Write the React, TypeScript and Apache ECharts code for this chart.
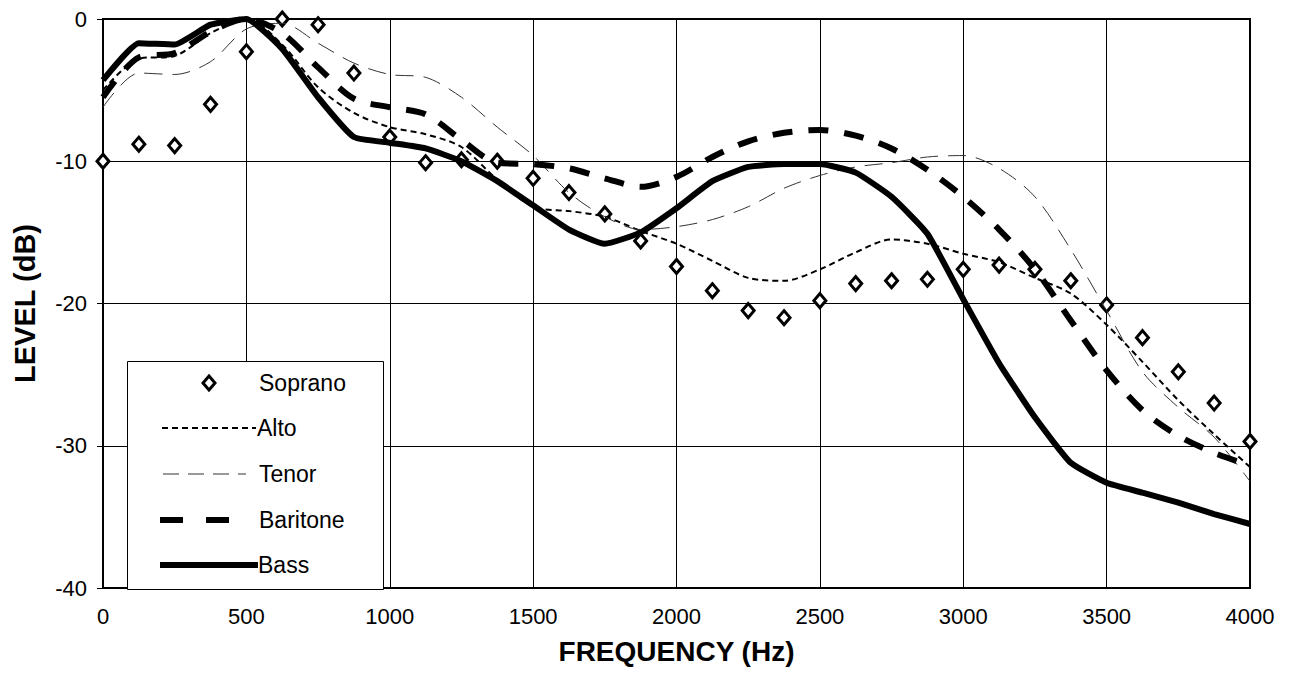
import React, { useEffect, useRef } from "react";
import * as echarts from "echarts";

const freqs = [0, 125, 250, 375, 500, 625, 750, 875, 1000, 1125, 1250, 1375, 1500, 1625, 1750, 1875, 2000, 2125, 2250, 2375, 2500, 2625, 2750, 2875, 3000, 3125, 3250, 3375, 3500, 3625, 3750, 3875, 4000];
const soprano = [-10, -8.8, -8.9, -6.0, -2.3, 0, -0.4, -3.8, -8.3, -10.1, -9.9, -10.0, -11.2, -12.2, -13.7, -15.6, -17.4, -19.1, -20.5, -21.0, -19.8, -18.6, -18.4, -18.3, -17.6, -17.3, -17.6, -18.4, -20.1, -22.4, -24.8, -27.0, -29.7];
const alto = [-5.0, -2.8, -2.6, -1.0, 0, -1.8, -4.8, -6.6, -7.6, -8.1, -9.0, -11.3, -13.2, -13.5, -13.9, -14.9, -15.8, -17.0, -18.2, -18.4, -17.6, -16.4, -15.5, -15.8, -16.5, -17.1, -18.2, -19.3, -21.5, -24.1, -26.8, -29.2, -31.5];
const tenor = [-6.2, -3.8, -3.9, -3.0, -0.7, -0.3, -1.7, -3.1, -3.9, -4.1, -5.5, -7.6, -9.6, -12.2, -13.9, -14.8, -14.6, -14.1, -13.2, -11.9, -11.0, -10.4, -10.1, -9.7, -9.6, -10.5, -12.5, -16.2, -20.5, -24.8, -27.3, -29.4, -32.5];
const baritone = [-5.5, -2.7, -2.4, -0.9, 0, -1.0, -3.4, -5.6, -6.2, -6.7, -8.5, -10.1, -10.2, -10.5, -11.2, -11.8, -11.1, -9.7, -8.6, -8.0, -7.8, -8.2, -9.1, -10.6, -12.5, -14.8, -17.6, -21.2, -24.7, -27.5, -29.3, -30.5, -31.4];
const bass = [-4.3, -1.7, -1.8, -0.4, 0, -2.1, -5.5, -8.3, -8.7, -9.1, -10.0, -11.4, -13.1, -14.8, -15.8, -15.0, -13.3, -11.4, -10.4, -10.2, -10.2, -10.8, -12.5, -15.1, -19.7, -24.2, -28.0, -31.2, -32.6, -33.3, -34.0, -34.8, -35.5];
const legendNames = ["Soprano", "Alto", "Tenor", "Baritone", "Bass"];

const FONT = '"Liberation Sans", Arial, sans-serif';

function pairs(vals: number[]) {
  return freqs.map((f, i) => [f, vals[i]]);
}

export default function App() {
  const ref = useRef<HTMLDivElement>(null);
  useEffect(() => {
    if (!ref.current) return;
    const chart = echarts.init(ref.current, undefined, { renderer: "svg" });
    const legendYs = [383, 428, 474, 520, 565];
    const textStyle = (t: string, x: number, y: number) => ({
      type: "text",
      z: 101,
      style: { text: t, x, y, fill: "#000", font: `23px ${FONT}`, verticalAlign: "middle", align: "left" },
    });
    const option: any = {
      animation: false,
      backgroundColor: "#fff",
      grid: { left: 103, top: 19, width: 1147, height: 569, show: true, borderColor: "#000", borderWidth: 2, backgroundColor: "transparent" },
      xAxis: {
        type: "value",
        min: 0,
        max: 4000,
        interval: 500,
        name: "FREQUENCY (Hz)",
        nameLocation: "middle",
        nameGap: 49,
        nameTextStyle: { fontSize: 28, fontWeight: "bold", color: "#000", fontFamily: FONT },
        axisLine: { show: true, lineStyle: { color: "#000", width: 2 } },
        axisTick: { show: true, inside: false, length: 6, lineStyle: { color: "#000", width: 1 } },
        axisLabel: { fontSize: 22, color: "#000", fontFamily: FONT, margin: 17, formatter: (v: number) => String(v) },
        splitLine: { show: true, lineStyle: { color: "#000", width: 1 } },
      },
      yAxis: {
        type: "value",
        min: -40,
        max: 0,
        interval: 10,
        name: "LEVEL (dB)",
        nameLocation: "middle",
        nameGap: 64,
        nameRotate: 90,
        nameTextStyle: { fontSize: 29, fontWeight: "bold", color: "#000", fontFamily: FONT },
        axisLine: { show: true, lineStyle: { color: "#000", width: 2 } },
        axisTick: { show: true, inside: false, length: 6, lineStyle: { color: "#000", width: 1 } },
        axisLabel: { fontSize: 22, color: "#000", fontFamily: FONT, margin: 16 },
        splitLine: { show: true, lineStyle: { color: "#000", width: 1 } },
      },
      series: [
        {
          name: legendNames[0],
          type: "line",
          data: pairs(soprano),
          symbol: "diamond",
          symbolSize: [12, 14],
          showSymbol: true,
          lineStyle: { width: 0, opacity: 0 },
          itemStyle: { color: "#fff", borderColor: "#000", borderWidth: 3 },
          z: 2,
        },
        {
          name: legendNames[1],
          type: "line",
          data: pairs(alto),
          showSymbol: false,
          smooth: 0.3,
          lineStyle: { color: "#000", width: 2, type: [6, 4] },
          z: 3,
        },
        {
          name: legendNames[2],
          type: "line",
          data: pairs(tenor),
          showSymbol: false,
          smooth: 0.3,
          lineStyle: { color: "#333", width: 1, type: [18, 10] },
          z: 4,
        },
        {
          name: legendNames[3],
          type: "line",
          data: pairs(baritone),
          showSymbol: false,
          smooth: 0.3,
          lineStyle: { color: "#000", width: 6, type: [20, 16] },
          z: 5,
        },
        {
          name: legendNames[4],
          type: "line",
          data: pairs(bass),
          showSymbol: false,
          smooth: 0.15,
          lineStyle: { color: "#000", width: 6 },
          z: 6,
        },
      ],
      graphic: [
        {
          type: "rect",
          z: 100,
          shape: { x: 127.5, y: 361.5, width: 256, height: 228 },
          style: { fill: "#fff", stroke: "#000", lineWidth: 1 },
        },
        {
          type: "polygon",
          z: 101,
          shape: { points: [[209, 376], [215, 383], [209, 390], [203, 383]] },
          style: { fill: "#fff", stroke: "#000", lineWidth: 3 },
        },
        textStyle(legendNames[0], 259, legendYs[0]),
        {
          type: "line",
          z: 101,
          shape: { x1: 162, y1: legendYs[1], x2: 256, y2: legendYs[1] },
          style: { stroke: "#000", lineWidth: 2, lineDash: [6, 4] },
        },
        textStyle(legendNames[1], 257, legendYs[1]),
        {
          type: "line",
          z: 101,
          shape: { x1: 163, y1: legendYs[2], x2: 246, y2: legendYs[2] },
          style: { stroke: "#333", lineWidth: 1, lineDash: [16, 9] },
        },
        textStyle(legendNames[2], 259, legendYs[2]),
        {
          type: "line",
          z: 101,
          shape: { x1: 160, y1: legendYs[3], x2: 229, y2: legendYs[3] },
          style: { stroke: "#000", lineWidth: 6, lineDash: [23, 23] },
        },
        textStyle(legendNames[3], 259, legendYs[3]),
        {
          type: "line",
          z: 101,
          shape: { x1: 160, y1: legendYs[4], x2: 258, y2: legendYs[4] },
          style: { stroke: "#000", lineWidth: 6 },
        },
        textStyle(legendNames[4], 258, legendYs[4]),
      ],
    };
    chart.setOption(option);
    return () => chart.dispose();
  }, []);
  return <div ref={ref} style={{ position: "absolute", left: 0, top: 0, width: 1292, height: 680, background: "#fff" }} />;
}
